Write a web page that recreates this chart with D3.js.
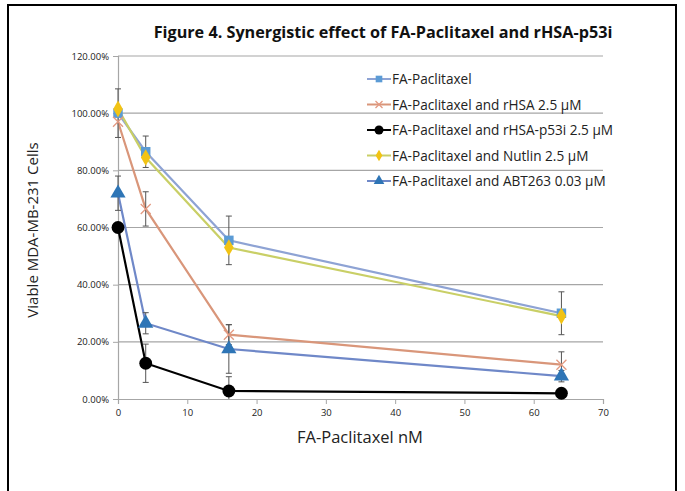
<!DOCTYPE html>
<html><head><meta charset="utf-8">
<script src="https://cdn.jsdelivr.net/npm/d3@7"></script>
<style>
html,body{margin:0;padding:0;background:#fff;}
svg{display:block;}
text{font-family:"Open Sans","Liberation Sans",sans-serif;}
</style></head>
<body><svg id="c" width="685" height="491"></svg>
<script>
const doses = [0, 4, 16, 64];
const seriesNames = ["FA-Paclitaxel","FA-Paclitaxel and rHSA 2.5 µM","FA-Paclitaxel and rHSA-p53i 2.5 µM","FA-Paclitaxel and Nutlin 2.5 µM","FA-Paclitaxel and ABT263 0.03 µM"];
const faPac      = [1.00, 0.865, 0.555, 0.30];
const faPacErr   = [0.085, 0.055, 0.085, 0.075];
const rhsa       = [0.97, 0.665, 0.225, 0.12];
const rhsaErr    = [0, 0.06, 0.035, 0.045];
const p53i       = [0.60, 0.125, 0.028, 0.02];
const p53iErr    = [0, 0.067, 0.05, 0.01];
const nutlin     = [1.015, 0.845, 0.53, 0.29];
const nutlinErr  = [0, 0, 0, 0];
const abt        = [0.72, 0.265, 0.175, 0.08];
const abtErr     = [0.06, 0.037, 0.085, 0.02];
const xTicks = [0,10,20,30,40,50,60,70];
const yTicks = [0,0.2,0.4,0.6,0.8,1.0,1.2];
const titleText = "Figure 4. Synergistic effect of FA-Paclitaxel and rHSA-p53i";
const xTitle = "FA-Paclitaxel nM";
const yTitle = "Viable MDA-MB-231 Cells";

const styles = [
  {line:"#8ea3d4", fill:"#5b9bd5", sym:d3.symbolSquare, size:90},
  {line:"#d9967a", fill:"#e39a82", sym:d3.symbolCross, size:90, x:true},
  {line:"#000000", fill:"#000000", sym:d3.symbolCircle, size:130},
  {line:"#c9cf66", fill:"#f2c314", sym:d3.symbolDiamond, size:80},
  {line:"#6f88c8", fill:"#2e75b6", sym:d3.symbolTriangle, size:100}
];
const values = [faPac, rhsa, p53i, nutlin, abt];
const errs = [faPacErr, rhsaErr, p53iErr, nutlinErr, abtErr];

const svg = d3.select("#c");
svg.append("rect").attr("x",8).attr("y",5).attr("width",668).attr("height",500)
  .attr("fill","#fff").attr("stroke","#000").attr("stroke-width",2);

const x = d3.scaleLinear().domain([0,70]).range([118,603]);
const y = d3.scaleLinear().domain([0,1.2]).range([399,56]);

// gridlines
svg.append("g").selectAll("line").data(yTicks.filter(d=>d>0)).join("line")
  .attr("x1",x(0)).attr("x2",x(70)).attr("y1",d=>y(d)).attr("y2",d=>y(d))
  .attr("stroke","#a6a6a6").attr("stroke-width",1.2);

const yAxis = svg.append("g").attr("transform",`translate(${x(0)},0)`)
  .call(d3.axisLeft(y).tickValues(yTicks).tickFormat(d3.format(".2%")).tickSize(5).tickPadding(4));
const xAxis = svg.append("g").attr("transform",`translate(0,${y(0)})`)
  .call(d3.axisBottom(x).tickValues(xTicks).tickSize(5).tickPadding(5));
[yAxis,xAxis].forEach(a=>{
  a.select(".domain").attr("stroke","#a6a6a6").attr("stroke-width",1.2);
  a.selectAll(".tick line").attr("stroke","#a6a6a6");
  a.selectAll("text").attr("font-size",9.5).attr("fill","#222").attr("font-family","Open Sans, sans-serif");
});

// lines
const lineGen = d3.line().x((d,i)=>x(doses[i])).y(d=>y(d));
values.forEach((v,k)=>{
  svg.append("path").datum(v).attr("d",lineGen).attr("fill","none")
    .attr("stroke",styles[k].line).attr("stroke-width",2.2);
});
// error bars
values.forEach((v,k)=>{
  const g = svg.append("g").attr("stroke","#555").attr("stroke-width",1);
  v.forEach((val,i)=>{
    const e = errs[k][i]; if(!e) return;
    const cx = x(doses[i]);
    g.append("line").attr("x1",cx).attr("x2",cx).attr("y1",y(val+e)).attr("y2",y(Math.max(0,val-e)));
    g.append("line").attr("x1",cx-3).attr("x2",cx+3).attr("y1",y(val+e)).attr("y2",y(val+e));
    if(val-e>0) g.append("line").attr("x1",cx-3).attr("x2",cx+3).attr("y1",y(val-e)).attr("y2",y(val-e));
  });
});
// markers
function marker(g, st, cx, cy, scale){
  if(st.x){
    const r = 5*scale;
    g.append("path").attr("d",`M${cx-r},${cy-r}L${cx+r},${cy+r}M${cx-r},${cy+r}L${cx+r},${cy-r}`)
      .attr("stroke",st.fill).attr("stroke-width",1.3).attr("fill","none");
  } else {
    g.append("path").attr("d",d3.symbol().type(st.sym).size(st.size*scale*scale)())
      .attr("transform",`translate(${cx},${cy})`).attr("fill",st.fill);
  }
}
values.forEach((v,k)=>{
  const g = svg.append("g");
  v.forEach((val,i)=>marker(g, styles[k], x(doses[i]), y(val), 1));
});

// legend
const lg = svg.append("g");
seriesNames.forEach((n,k)=>{
  const ly = 79 + k*25.5;
  lg.append("line").attr("x1",367).attr("x2",391).attr("y1",ly).attr("y2",ly)
    .attr("stroke",styles[k].line).attr("stroke-width",2);
  marker(lg, styles[k], 379, ly, 0.7);
  lg.append("text").attr("x",392).attr("y",ly+5).attr("font-size",13.6).attr("fill","#222").text(n);
});

// titles
svg.append("text").attr("x",383).attr("y",38).attr("text-anchor","middle")
  .attr("font-size",16.2).attr("font-weight","bold").attr("fill","#111").text(titleText);
svg.append("text").attr("x",360).attr("y",443).attr("text-anchor","middle")
  .attr("font-size",16.5).attr("fill","#222").text(xTitle);
svg.append("text").attr("transform","translate(38,230) rotate(-90)").attr("text-anchor","middle")
  .attr("font-size",15).attr("fill","#222").text(yTitle);
</script></body></html>
